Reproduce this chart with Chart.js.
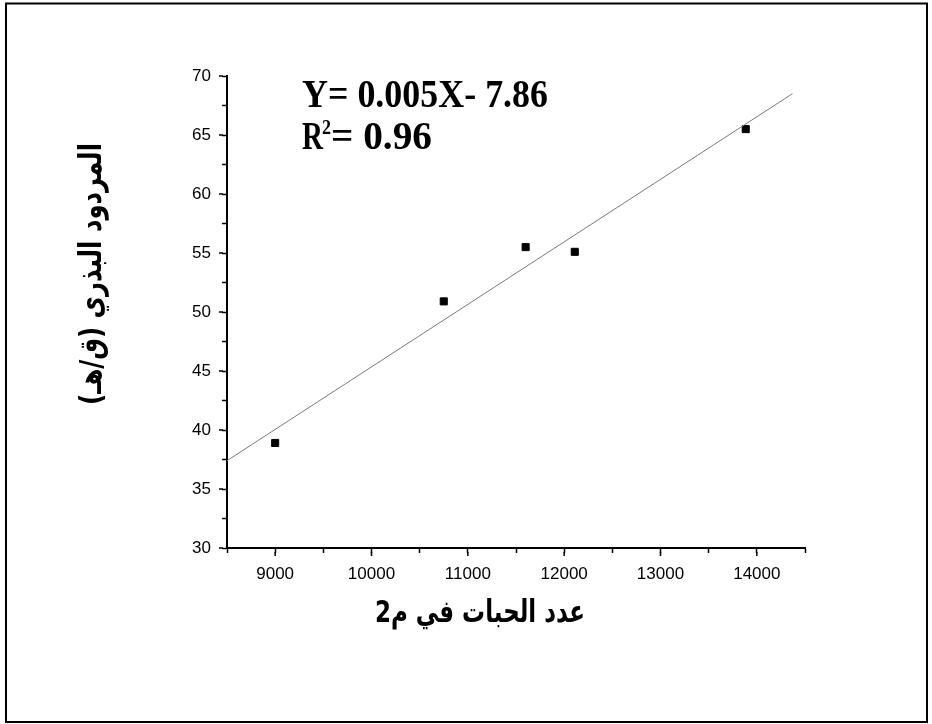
<!DOCTYPE html>
<html><head><meta charset="utf-8">
<script src="https://cdn.jsdelivr.net/npm/chart.js@4/dist/chart.umd.min.js"></script>
<style>html,body{margin:0;padding:0;background:#fff;} #wrap{position:relative;width:932px;height:724px;}</style>
</head><body><div id="wrap"><canvas id="c" width="932" height="724"></canvas></div>
<script>
// ---- data ----
const grainsX = [9000, 10750, 11600, 12110, 13885];
const yieldY = [38.9, 50.9, 55.5, 55.1, 65.5];
const fitX = [8500, 14370];
const fitY = [37.4, 68.5];
const xTicks = [9000, 10000, 11000, 12000, 13000, 14000];
const yTicks = [30, 35, 40, 45, 50, 55, 60, 65, 70];
const xTitle = 'عدد الحبات في م2';
const yTitle = 'المردود البذري (ق/هـ)';
const eqLine1 = 'Y= 0.005X- 7.86';
const eqR = 'R', eqSup = '2', eqRest = '= 0.96';

function fitText(ctx, text, x, y, width) {
  const w = ctx.measureText(text).width;
  ctx.save(); ctx.translate(x, y); ctx.scale(width / w, 1); ctx.fillText(text, 0, 0); ctx.restore();
}

const annot = {
  id: 'annot',
  afterDraw(chart) {
    const ctx = chart.ctx;
    const sx = chart.scales.x, sy = chart.scales.y;
    ctx.save();
    // major tick extension
    ctx.strokeStyle = '#000'; ctx.lineWidth = 1.5;
    ctx.beginPath();
    for (const v of xTicks) { const p = sx.getPixelForValue(v); ctx.moveTo(p, sx.top + 4); ctx.lineTo(p, sx.top + 8); }
    for (const v of yTicks) { const p = sy.getPixelForValue(v); ctx.moveTo(sy.right - 4, p); ctx.lineTo(sy.right - 8, p); }
    ctx.stroke();
    // frame
    ctx.lineWidth = 2; ctx.strokeStyle = '#000';
    ctx.strokeRect(6, 3.5, 921, 718.5);
    // equation
    ctx.fillStyle = '#000';
    ctx.textBaseline = 'alphabetic'; ctx.textAlign = 'left';
    ctx.font = 'bold 41px "Liberation Serif"';
    fitText(ctx, eqLine1, 302, 107, 246);
    fitText(ctx, eqR, 302, 149, 21);
    ctx.font = 'bold 21px "Liberation Serif"';
    fitText(ctx, eqSup, 322, 134, 9);
    ctx.font = 'bold 41px "Liberation Serif"';
    fitText(ctx, eqRest, 331, 149, 101);
    // axis titles
    ctx.font = 'bold 31px "DejaVu Sans"';
    ctx.direction = 'rtl'; ctx.textAlign = 'center';
    fitText(ctx, xTitle, 480, 622, 210);
    ctx.save(); ctx.translate(101, 274); ctx.rotate(-Math.PI / 2);
    fitText(ctx, yTitle, 0, 0, 262);
    ctx.restore();
    ctx.restore();
  }
};

new Chart(document.getElementById('c'), {
  type: 'scatter',
  data: {
    datasets: [
      { type: 'line', data: fitX.map((x, i) => ({ x, y: fitY[i] })), borderColor: '#7a7a7a', borderWidth: 1,
        pointRadius: 0, fill: false, tension: 0 },
      { data: grainsX.map((x, i) => ({ x, y: yieldY[i] })), pointStyle: 'rect', pointRadius: 5,
        backgroundColor: '#000', borderColor: '#000', borderWidth: 1 }
    ]
  },
  options: {
    responsive: false, animation: false, devicePixelRatio: 1,
    layout: { padding: { left: 0, top: 76, right: 127, bottom: 0 } },
    plugins: { legend: { display: false }, tooltip: { enabled: false } },
    scales: {
      x: {
        type: 'linear', position: 'bottom', min: 8500, max: 14500,
        afterFit(s) { s.height = 176; },
        ticks: { stepSize: 500, autoSkip: false, maxRotation: 0, color: '#000', padding: 11,
          font: { family: '"Liberation Sans", Arial', size: 17 },
          callback: v => xTicks.includes(v) ? String(v) : '' },
        grid: { drawOnChartArea: false, drawTicks: true, tickLength: 5, tickColor: '#000', tickWidth: 1.5 },
        border: { color: '#000', width: 2 }
      },
      y: {
        type: 'linear', position: 'left', min: 30, max: 70,
        afterFit(s) { s.width = 227; },
        ticks: { stepSize: 2.5, autoSkip: false, color: '#000', padding: 11,
          font: { family: '"Liberation Sans", Arial', size: 17 },
          callback: v => yTicks.includes(v) ? String(v) : '' },
        grid: { drawOnChartArea: false, drawTicks: true, tickLength: 5, tickColor: '#000', tickWidth: 1.5 },
        border: { color: '#000', width: 2 }
      }
    }
  },
  plugins: [annot]
});
</script></body></html>
